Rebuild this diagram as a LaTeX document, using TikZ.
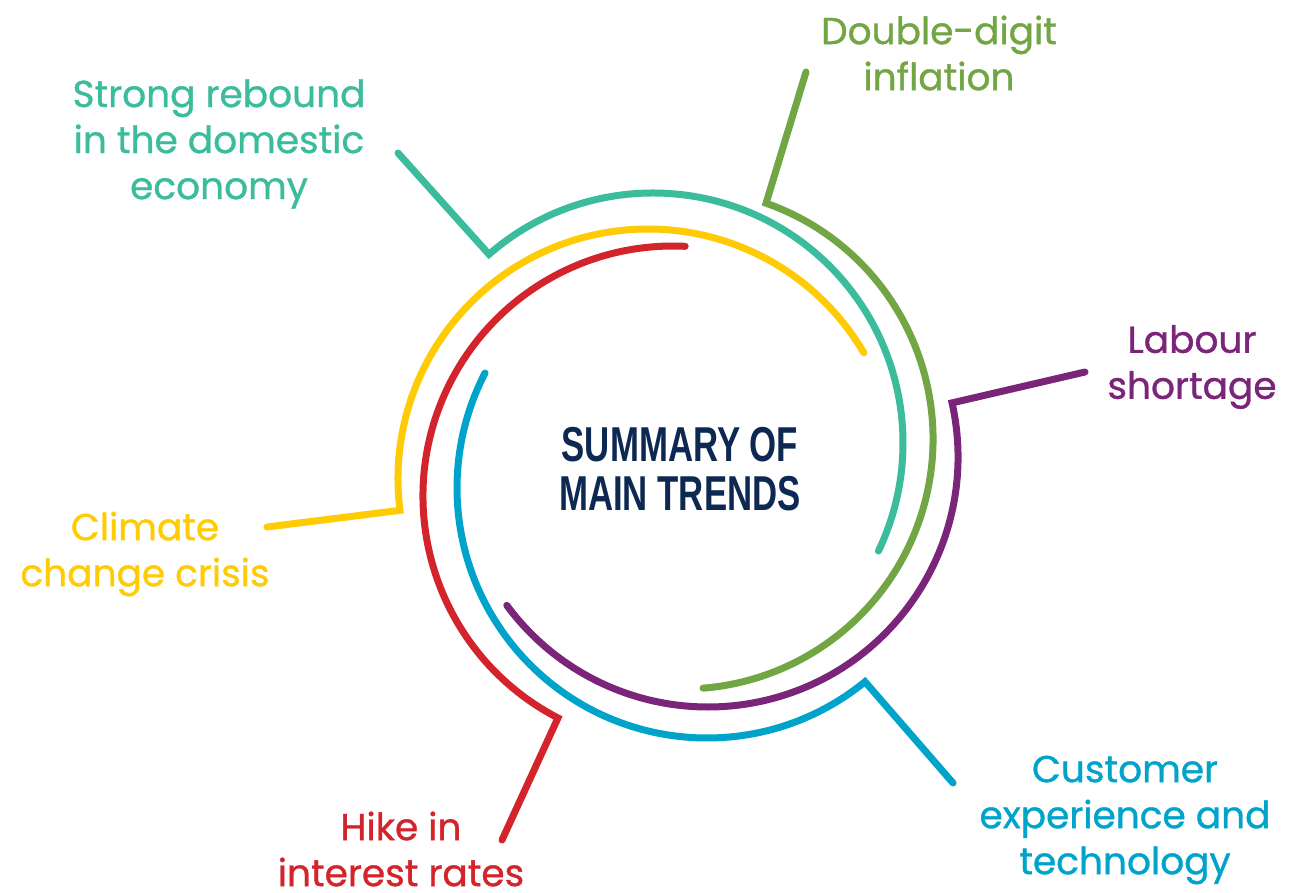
\documentclass[tikz,border=0pt]{standalone}
\usepackage{graphicx}
\usepackage{fontspec}
\setmainfont{Poppins}[FakeBold=0.9]
\newfontfamily\titlefont{Liberation Sans}
\usetikzlibrary{calc}

\definecolor{cteal}{RGB}{59,188,156}
\definecolor{cgreen}{RGB}{114,165,68}
\definecolor{cpurple}{RGB}{122,37,121}
\definecolor{cblue}{RGB}{0,164,203}
\definecolor{cred}{RGB}{212,36,43}
\definecolor{cyellow}{RGB}{255,203,5}
\definecolor{cnavy}{RGB}{13,41,82}

\begin{document}
\begin{tikzpicture}[x=1pt,y=1pt,
  ring/.style={line width=7pt, line cap=round, line join=miter},
  trendlabel/.style={align=center, inner sep=0pt, font=\fontsize{37.5}{46}\selectfont},
  titletext/.style={align=center, text=cnavy, font=\titlefont\bfseries\fontsize{49}{49}\selectfont}]
\useasboundingbox (0,0) rectangle (1293,-893);

% centre title
\node[titletext] (title) at (680,-469)
  {\scalebox{0.71}[1]{SUMMARY OF}\\\scalebox{0.71}[1]{MAIN TRENDS}};

% ring centres (each ring is offset slightly)
\coordinate (cT) at (653,-443);
\coordinate (cG) at (683,-439);
\coordinate (cP) at (708,-457);
\coordinate (cB) at (707,-488);
\coordinate (cR) at (673,-496);
\coordinate (cY) at (648,-479);

% free ends of the leader lines
\coordinate (tEnd) at (398,-153);
\coordinate (gEnd) at (806,-72);
\coordinate (pEnd) at (1085,-372);
\coordinate (bEnd) at (953,-783);
\coordinate (rEnd) at (502,-840);
\coordinate (yEnd) at (267,-527);

% labels
\node[trendlabel, text=cteal] (tLab) at (219,-144) {Strong rebound\\in the domestic\\economy};
\node[trendlabel, text=cgreen] (gLab) at (939,-53) {Double-digit\\inflation};
\node[trendlabel, text=cpurple] (pLab) at (1192,-367) {Labour\\shortage};
\node[trendlabel, text=cyellow] (yLab) at (145,-554) {Climate\\change crisis};
\node[trendlabel, text=cred] (rLab) at (401,-849) {Hike in\\interest rates};
\node[trendlabel, text=cblue] (bLab) at (1125,-820) {Customer\\experience and\\technology};

% leader lines running into their rings
\draw[ring, cteal] (tEnd) -- ($(cT)+(131:250)$) arc[start angle=131, end angle=-25.6, radius=250pt];
\draw[ring, cgreen] (gEnd) -- ($(cG)+(70.6:250)$) arc[start angle=70.6, end angle=-85.4, radius=250pt];
\draw[ring, cpurple] (pEnd) -- ($(cP)+(12.5:250)$) arc[start angle=12.5, end angle=-143.6, radius=250pt];
\draw[ring, cblue] (bEnd) -- ($(cB)+(-50.8:250)$) arc[start angle=-50.8, end angle=-207.4, radius=250pt];
\draw[ring, cred] (rEnd) -- ($(cR)+(242.6:250)$) arc[start angle=242.6, end angle=87.2, radius=250pt];
\draw[ring, cyellow] (yEnd) -- ($(cY)+(187.2:250)$) arc[start angle=187.2, end angle=30.3, radius=250pt];
\end{tikzpicture}
\end{document}
